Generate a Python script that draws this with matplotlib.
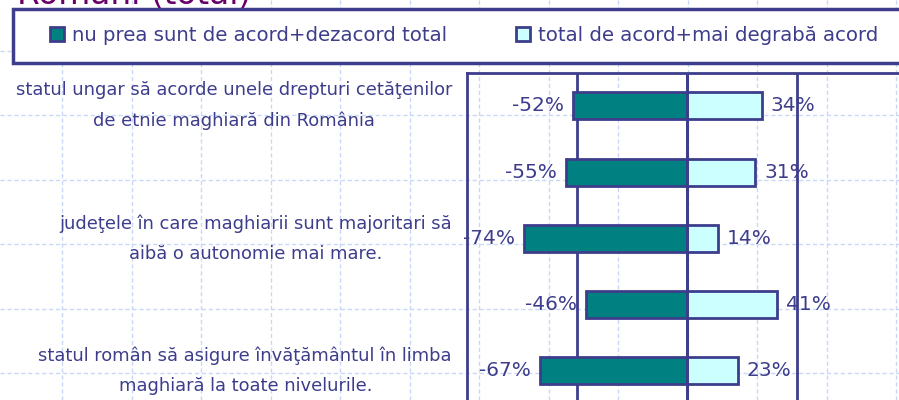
import numpy as np
import matplotlib
matplotlib.use("Agg")
import matplotlib.pyplot as plt
from matplotlib.patches import Patch, Rectangle

# data
categories = [
    "statul ungar să acorde unele drepturi cetăţenilor\nde etnie maghiară din România",
    "",
    "judeţele în care maghiarii sunt majoritari să\naibă o autonomie mai mare.",
    "",
    "statul român să asigure învăţământul în limba\nmaghiară la toate nivelurile.",
]
disagree = [-52, -55, -74, -46, -67]
agree = [34, 31, 14, 41, 23]
legend_labels = ["nu prea sunt de acord+dezacord total", "total de acord+mai degrabă acord"]
title = "Români (total)"

navy = "#3d3d8c"
teal = "#008080"
cyan = "#ccffff"
purple = "#660066"
paper = "#c8d8f6"

plt.rcParams["font.family"] = ["DejaVu Sans"]

fig = plt.figure(figsize=(8.99, 4), dpi=100)

# graph-paper background of the slide
bg = fig.add_axes([0, 0, 1, 1], zorder=0)
bg.set_xlim(0, 899)
bg.set_ylim(400, 0)
bg.axis("off")
for gx in np.arange(-7.5, 900, 69.5):
    bg.axvline(gx, color=paper, lw=1, ls=(0, (3, 2)))
for gy in np.arange(-14, 400, 64.5):
    bg.axhline(gy, color=paper, lw=1, ls=(0, (3, 2)))
# legend frame
bg.add_patch(Rectangle((13, 9), 900, 54, facecolor="white", edgecolor=navy, lw=2.5, zorder=5))

# main chart, right part runs past the edge of the picture
ax = fig.add_axes([467 / 899, -4 / 400, 440 / 899, 331.3 / 400], zorder=2)
ax.patch.set_alpha(0)
y = np.arange(len(categories))
b1 = ax.barh(y, disagree, height=0.41, color=teal, edgecolor=navy, linewidth=2, zorder=3)
b2 = ax.barh(y, agree, height=0.41, color=cyan, edgecolor=navy, linewidth=2, zorder=3)
ax.axvline(0, color=navy, lw=2, zorder=4)
ax.set_xlim(-100, 100)
ax.set_ylim(4.5, -0.5)
ax.set_xticks([-50, 0, 50])
ax.xaxis.grid(True, color=navy, lw=2)
ax.set_axisbelow(True)
ax.tick_params(axis="x", length=0, labelbottom=False)
ax.tick_params(axis="y", length=0, pad=10.8, labelsize=12.9, labelcolor=navy)
ax.set_yticks(y)
ax.set_yticklabels(categories)
for t in ax.get_yticklabels():
    t.set_multialignment("center")
    t.set_linespacing(1.85)
    t.set_va("center")
for s in ax.spines.values():
    s.set_color(navy)
    s.set_linewidth(2)

ax.bar_label(b1, fmt="%d%%", padding=6.5, color=navy, fontsize=14.5)
ax.bar_label(b2, fmt="%d%%", padding=6.5, color=navy, fontsize=14.5)

# legend entries inside the frame
handles = [Patch(facecolor=teal, edgecolor=navy, linewidth=2),
           Patch(facecolor=cyan, edgecolor=navy, linewidth=2)]
leg = fig.legend(handles, legend_labels, loc="center left", ncol=2,
                 bbox_to_anchor=(50 / 899, 1 - 35.5 / 400),
                 fontsize=14.2, labelcolor=navy, handlelength=0.7, handleheight=0.7,
                 handletextpad=0.4, columnspacing=3.5, borderpad=0, borderaxespad=0,
                 frameon=False)
leg.set_zorder(3)

fig.text(17 / 899, 1 - 4 / 400, title, color=purple, fontsize=23.6, va="baseline", ha="left")

fig.savefig("out.png", dpi=100)
